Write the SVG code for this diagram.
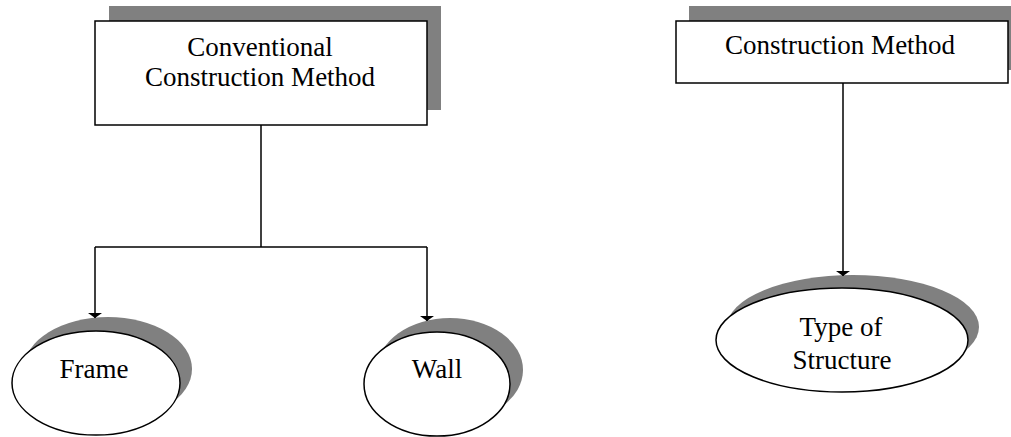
<svg xmlns="http://www.w3.org/2000/svg" width="1011" height="437" viewBox="0 0 1011 437">
<style>
.shadow{fill:#808080;stroke:none}
.box{fill:#fff;stroke:#000;stroke-width:1.5}
.conn{fill:none;stroke:#000;stroke-width:1.5}
.lbl{font-family:"Liberation Serif","Times New Roman",serif;font-size:27px;fill:#000;text-anchor:middle}
</style>
<defs>
<marker id="ah" markerUnits="userSpaceOnUse" markerWidth="6" markerHeight="14" refX="5" refY="7" orient="auto" viewBox="0 0 6 14">
<path d="M0,0 L5,7 L0,14 Z" fill="#000"/>
</marker>
</defs>
<rect width="1011" height="437" fill="#fff"/>
<g id="node-conventional">
<rect class="shadow" x="109" y="6" width="332" height="104"/>
<rect class="box" x="95" y="21" width="332" height="104"/>
<text class="lbl" x="260" y="56">Conventional</text>
<text class="lbl" x="260" y="86">Construction Method</text>
</g>
<g id="node-construction">
<rect class="shadow" x="689" y="6" width="330" height="64"/>
<rect class="box" x="676" y="21" width="332" height="62"/>
<text class="lbl" x="840" y="54">Construction Method</text>
</g>
<g id="node-frame">
<ellipse class="shadow" cx="108" cy="369" rx="84" ry="52"/>
<ellipse class="box" cx="96" cy="383" rx="84" ry="52"/>
<text class="lbl" x="94" y="378">Frame</text>
</g>
<g id="node-wall">
<ellipse class="shadow" cx="450" cy="370" rx="73" ry="52"/>
<ellipse class="box" cx="437" cy="384" rx="73" ry="52"/>
<text class="lbl" x="437" y="378">Wall</text>
</g>
<g id="node-type">
<ellipse class="shadow" cx="853" cy="327" rx="126" ry="52"/>
<ellipse class="box" cx="842" cy="340" rx="126" ry="52"/>
<text class="lbl" x="841" y="336">Type of</text>
<text class="lbl" x="842" y="369">Structure</text>
</g>
<g id="connectors">
<path class="conn" d="M261,125 V247"/>
<path class="conn" d="M95,247 H427"/>
<path class="conn" d="M95,247 V318" marker-end="url(#ah)"/>
<path class="conn" d="M427,247 V321" marker-end="url(#ah)"/>
<path class="conn" d="M843,83 V276" marker-end="url(#ah)"/>
</g>
</svg>
